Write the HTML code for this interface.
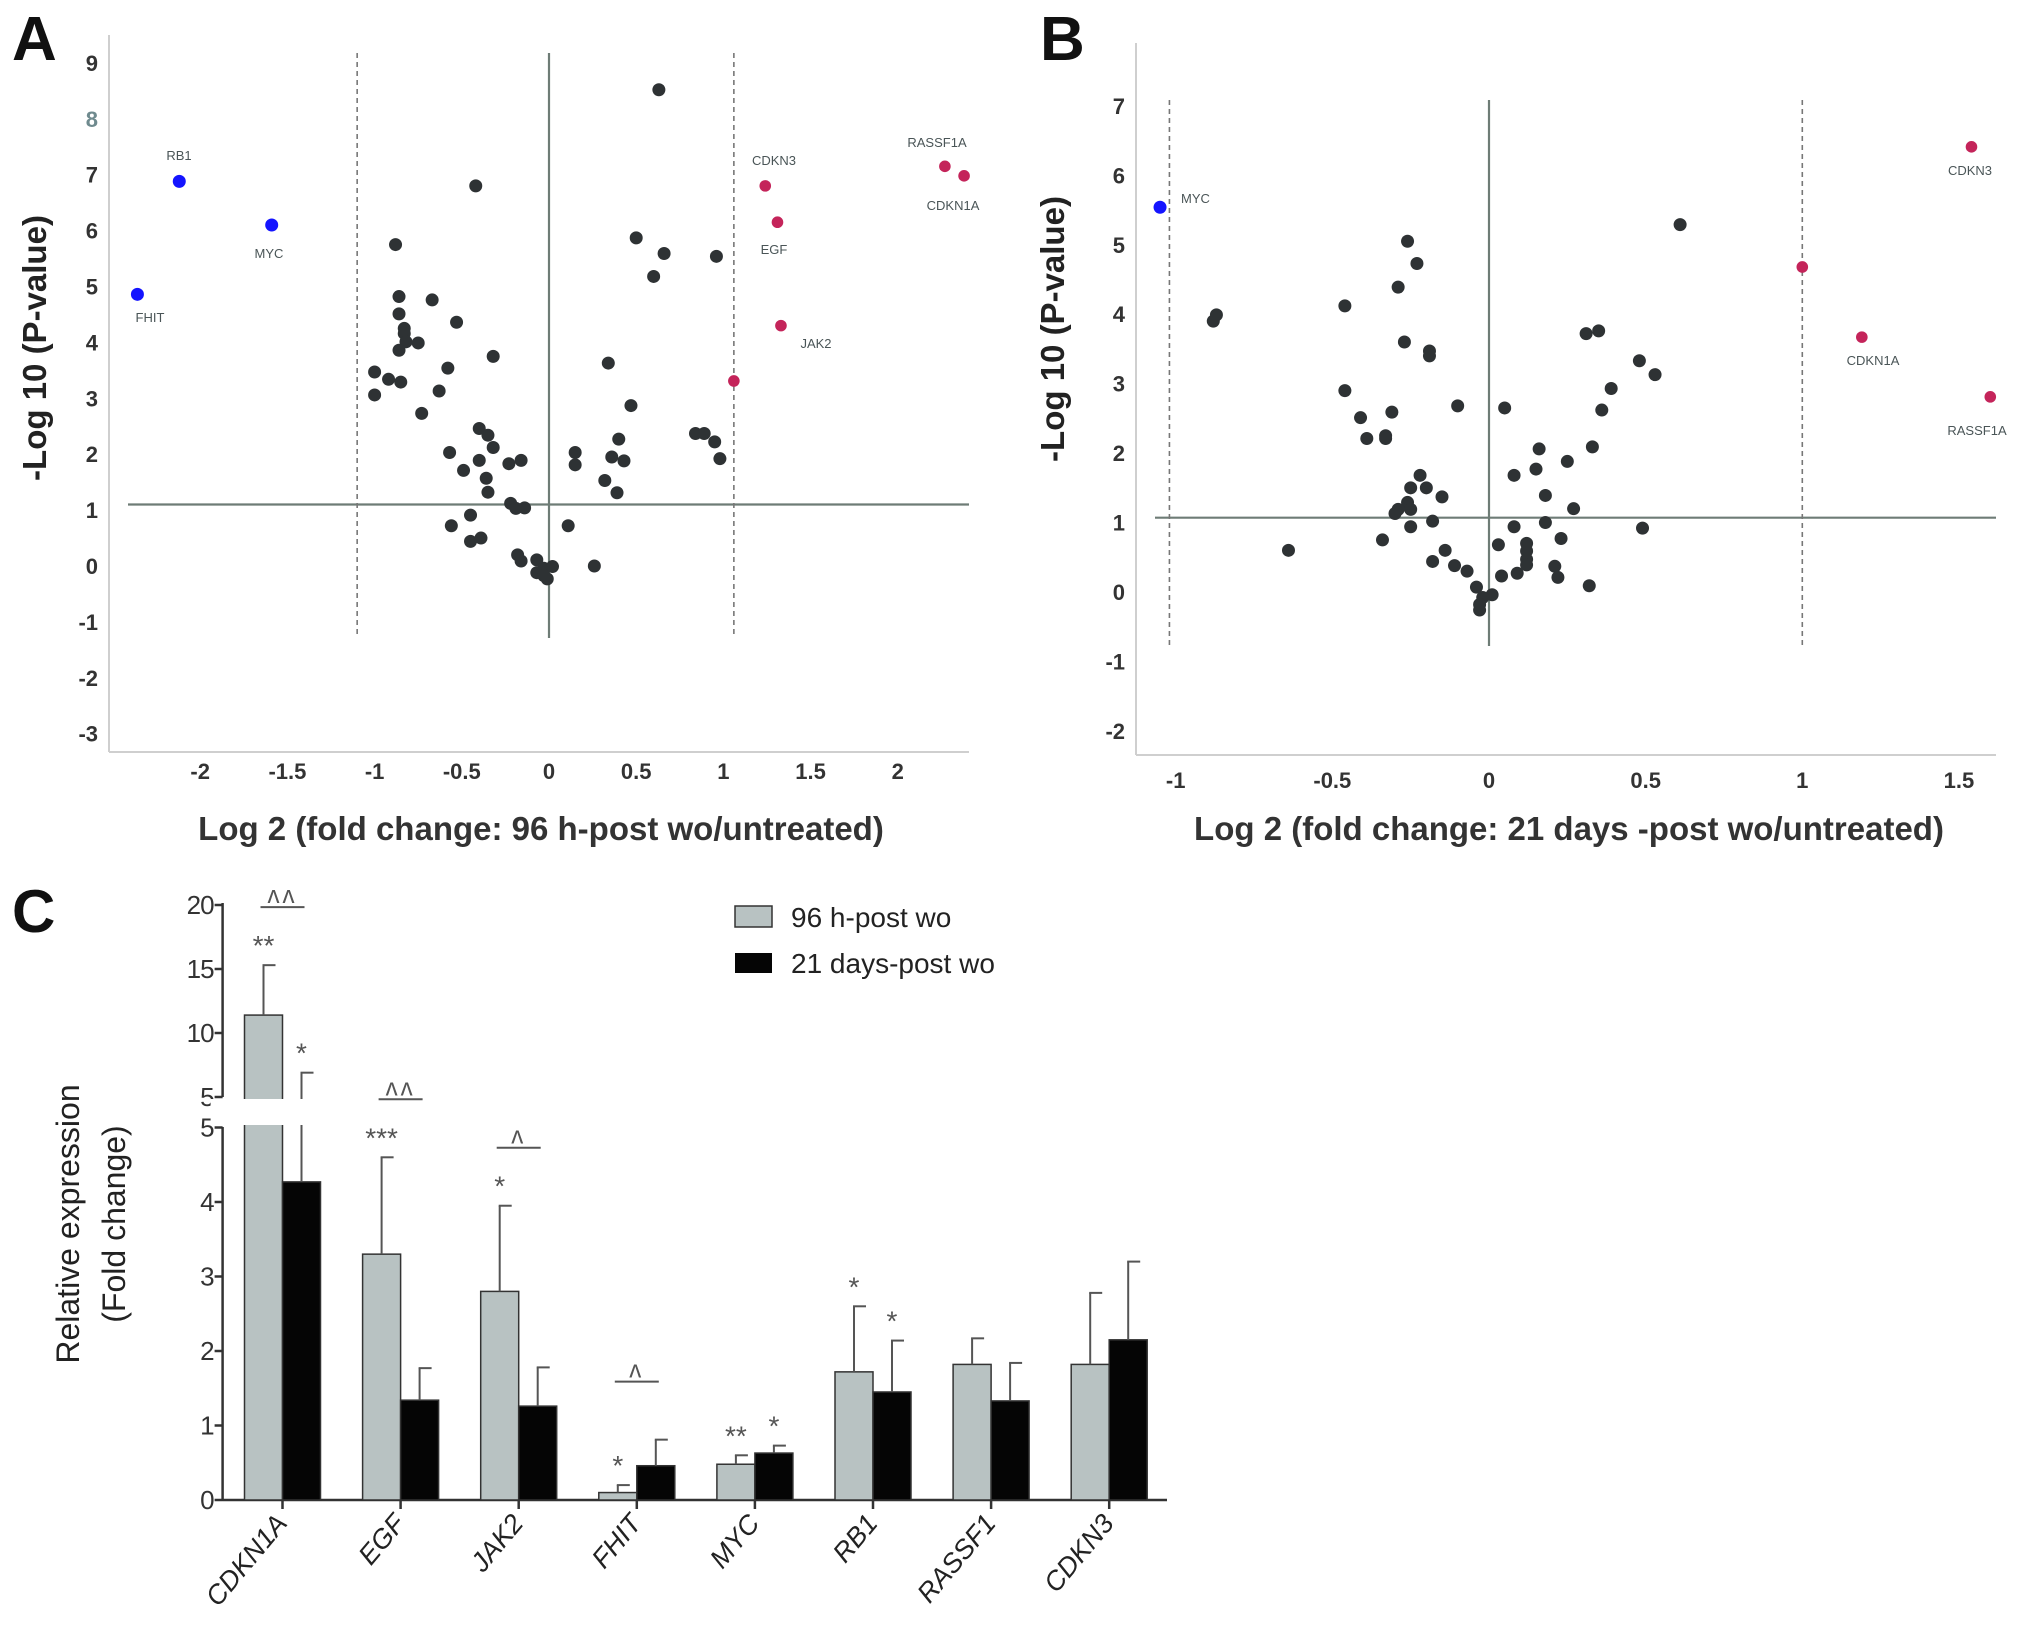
<!DOCTYPE html>
<html><head><meta charset="utf-8">
<style>
html,body{margin:0;padding:0;background:#fff;}
svg{display:block;font-family:"Liberation Sans",Arial,sans-serif;}
</style></head>
<body>
<svg id="fig" width="2031" height="1630" viewBox="0 0 2031 1630" xmlns="http://www.w3.org/2000/svg">
<rect x="0" y="0" width="2031" height="1630" fill="#fff"/>
<text x="12" y="60" font-size="62" font-weight="bold" fill="#111">A</text>
<text x="1040" y="60" font-size="62" font-weight="bold" fill="#111">B</text>
<text x="12" y="932" font-size="60" font-weight="bold" fill="#111">C</text>
<g id="pa"></g>
<g id="pb"></g>
<g id="pc"></g>
</svg>
<script>
// ---------- Panel A data ----------
const aBlackX=[0.63,-0.42,-0.88,0.5,0.66,0.6,0.96,-0.86,-0.67,-0.86,-0.83,-0.83,-0.53,-0.82,-0.75,-0.86,-0.32,-1.0,-0.92,-0.85,-0.58,-1.0,-0.63,-0.73,0.34,0.47,-0.4,-0.35,-0.32,-0.57,-0.4,-0.49,-0.36,-0.35,-0.23,-0.16,0.15,0.15,0.4,0.36,0.43,0.32,0.39,0.84,0.89,0.95,0.98,-0.22,-0.19,-0.14,-0.56,-0.45,-0.45,-0.39,0.11,-0.18,-0.16,-0.07,-0.07,-0.03,-0.01,0.02,0.26,-0.03];
const aBlackY=[8.52,6.8,5.75,5.87,5.59,5.18,5.54,4.82,4.76,4.51,4.25,4.16,4.36,4.01,3.99,3.86,3.75,3.47,3.34,3.29,3.54,3.06,3.13,2.73,3.63,2.87,2.46,2.34,2.12,2.03,1.89,1.71,1.57,1.32,1.83,1.89,2.03,1.81,2.27,1.95,1.88,1.53,1.31,2.37,2.37,2.22,1.92,1.12,1.03,1.04,0.72,0.91,0.44,0.5,0.72,0.2,0.09,0.11,-0.12,-0.04,-0.23,-0.01,0.0,-0.17];
const aDownGenes=["RB1","MYC","FHIT"];
const aDownX=[-2.12,-1.59,-2.36];
const aDownY=[6.88,6.1,4.86];
const aUpGenes=["CDKN3","EGF","JAK2","","RASSF1A","CDKN1A"];
const aUpX=[1.24,1.31,1.33,1.06,2.27,2.38];
const aUpY=[6.8,6.15,4.3,3.31,7.15,6.98];
const aXTicks=[-2,-1.5,-1,-0.5,0,0.5,1,1.5,2];
const aYTicks=[9,8,7,6,5,4,3,2,1,0,-1,-2,-3];
const aHLine=1.1, aVLines=[-1.1,1.06];
// ---------- Panel B data ----------
const bBlackX=[0.61,-0.26,-0.23,-0.29,-0.46,-0.87,-0.88,-0.27,-0.19,-0.19,0.31,0.35,0.48,0.53,-0.46,0.39,-0.1,0.05,0.36,-0.31,-0.41,-0.33,-0.39,-0.33,0.33,0.16,0.25,0.15,0.08,-0.22,-0.25,-0.2,-0.15,0.18,-0.26,-0.29,-0.25,-0.3,0.27,-0.18,-0.25,0.18,0.08,0.49,-0.34,0.23,0.03,0.12,0.12,0.12,0.12,-0.64,-0.14,-0.18,-0.11,-0.07,0.21,0.22,0.04,0.09,0.32,-0.04,0.01,-0.02,-0.03,-0.03];
const bBlackY=[5.29,5.05,4.73,4.39,4.12,3.99,3.9,3.6,3.47,3.4,3.72,3.76,3.33,3.13,2.9,2.93,2.68,2.65,2.62,2.59,2.51,2.25,2.21,2.21,2.09,2.06,1.88,1.77,1.68,1.68,1.5,1.5,1.37,1.39,1.29,1.19,1.19,1.13,1.2,1.02,0.94,1.0,0.94,0.92,0.75,0.77,0.68,0.7,0.59,0.47,0.39,0.6,0.6,0.44,0.38,0.3,0.37,0.21,0.23,0.27,0.09,0.07,-0.04,-0.08,-0.18,-0.26];
const bDownGenes=["MYC"];
const bDownX=[-1.05];
const bDownY=[5.54];
const bUpGenes=["CDKN3","","CDKN1A","RASSF1A"];
const bUpX=[1.54,1.0,1.19,1.6];
const bUpY=[6.41,4.68,3.67,2.81];
const bXTicks=[-1,-0.5,0,0.5,1,1.5];
const bYTicks=[7,6,5,4,3,2,1,0,-1,-2];
const bHLine=1.07, bVLines=[-1.02,1.0];
// ---------- Panel C data ----------
const cCategories=["CDKN1A","EGF","JAK2","FHIT","MYC","RB1","RASSF1","CDKN3"];
const c96h=[11.4,3.3,2.8,0.1,0.48,1.72,1.82,1.82];
const c96hErr=[15.3,4.6,3.95,0.2,0.6,2.6,2.17,2.78];
const c21d=[4.27,1.34,1.26,0.46,0.63,1.45,1.33,2.15];
const c21dErr=[6.9,1.77,1.78,0.81,0.73,2.14,1.84,3.2];
const cLowTicks=[0,1,2,3,4,5];
const cHighTicks=[5,10,15,20];
const c96hStars=["**","***","*","*","**","*","",""];
const c21dStars=["*","","","","*","*","",""];
const cCaretMarks=["^^","^^","^","^","","","",""];

const NS="http://www.w3.org/2000/svg";
function mk(parent,tag,attrs){const e=document.createElementNS(NS,tag);for(const k in attrs)e.setAttribute(k,attrs[k]);parent.appendChild(e);return e;}

function volcano(g,cfg){
  const X=v=>cfg.x0+v*cfg.ux, Y=v=>cfg.y0-v*cfg.uy;
  let e=mk(g,'line',{x1:cfg.axL,y1:cfg.axT,x2:cfg.axL,y2:cfg.axB,stroke:'#cfcfcf','stroke-width':2});
  
  
  e=mk(g,'line',{x1:cfg.axL,y1:cfg.axB,x2:cfg.axR,y2:cfg.axB,stroke:'#cfcfcf','stroke-width':2});
  
  
  cfg.yTicks.forEach(t=>{
    const tx=mk(g,'text',{x:cfg.ylx,y:Y(t)+8,'font-size':22,'font-weight':'bold','text-anchor':'end',fill:(t===8&&cfg.light8)?'#6f8a8e':'#333'});
    tx.textContent=String(t);
    
    
  });
  cfg.xTicks.forEach(t=>{
    const tx=mk(g,'text',{x:X(t),y:cfg.xly,'font-size':22,'font-weight':'bold','text-anchor':'middle',fill:'#333'});
    tx.textContent=String(t);
    
    
  });
  e=mk(g,'line',{x1:cfg.hL,y1:Y(cfg.hLine),x2:cfg.axR,y2:Y(cfg.hLine),stroke:'#6e7c76','stroke-width':2.2});
  
  
  e=mk(g,'line',{x1:X(0),y1:cfg.vT,x2:X(0),y2:cfg.vB,stroke:'#6e7c76','stroke-width':2.2});
  
  
  cfg.vLines.forEach(v=>{
    const d=mk(g,'line',{x1:X(v),y1:cfg.vT,x2:X(v),y2:cfg.vB,stroke:'#777','stroke-width':1.6,'stroke-dasharray':'5,4'});
    
    
  });
  cfg.bx.forEach((v,i)=>{
    const c=mk(g,'circle',{cx:X(v),cy:Y(cfg.by[i]),r:6.5,fill:'#2e3234'});
    
    
  });
  cfg.dx.forEach((v,i)=>{
    const c=mk(g,'circle',{cx:X(v),cy:Y(cfg.dy[i]),r:6.5,fill:'#1414ff'});
    
    
  });
  cfg.ux2.forEach((v,i)=>{
    const c=mk(g,'circle',{cx:X(v),cy:Y(cfg.uy2[i]),r:5.8,fill:'#c4245a'});
    
    
  });
  cfg.labels.forEach(l=>{
    const tx=mk(g,'text',{x:l[1],y:l[2]+5,'font-size':13,'text-anchor':l[3]||'middle',fill:'#4a5557'});
    tx.textContent=l[0];
    
    
  });
  let t=mk(g,'text',{x:0,y:0,'font-size':33,'font-weight':'bold',fill:'#222','text-anchor':'middle',transform:`translate(${cfg.ytx},${cfg.yty}) rotate(-90)`});
  t.textContent='-Log 10 (P-value)';
  
  
  t=mk(g,'text',{x:cfg.xtx,y:cfg.xty,'font-size':33,'font-weight':'bold',fill:'#333','text-anchor':'middle','xml:space':'preserve'});
  t.textContent=cfg.xTitle;
  
  
}

volcano(document.getElementById('pa'),{
  x0:549,ux:174.4,y0:566,uy:55.9,axL:109,axT:35,axB:752,axR:969,ylx:98,xly:779,
  xTicks:aXTicks,yTicks:aYTicks,light8:true,hLine:aHLine,hL:128,vLines:aVLines,vT:53,vB:638,
  bx:aBlackX,by:aBlackY,dx:aDownX,dy:aDownY,ux2:aUpX,uy2:aUpY,
  labels:[[aDownGenes[0],179,155],[aDownGenes[1],269,253],[aDownGenes[2],150,317],[aUpGenes[0],774,160],[aUpGenes[1],774,249],[aUpGenes[2],816,343],[aUpGenes[4],937,142],[aUpGenes[5],953,205]],
  ytx:46,yty:348,xtx:541,xty:840,xTitle:'Log 2   (fold change: 96 h-post wo/untreated)'
});
volcano(document.getElementById('pb'),{
  x0:1489,ux:313.3,y0:592,uy:69.45,axL:1136,axT:43,axB:755,axR:1996,ylx:1125,xly:788,
  xTicks:bXTicks,yTicks:bYTicks,light8:false,hLine:bHLine,hL:1155,vLines:bVLines,vT:100,vB:646,
  bx:bBlackX,by:bBlackY,dx:bDownX,dy:bDownY,ux2:bUpX,uy2:bUpY,
  labels:[[bDownGenes[0],1181,198,'start'],[bUpGenes[0],1970,170],[bUpGenes[2],1873,360],[bUpGenes[3],1977,430]],
  ytx:1064,yty:329,xtx:1569,xty:840,xTitle:'Log 2 (fold change: 21 days -post wo/untreated)'
});

// ---------- Panel C ----------
(function(){
  const g=document.getElementById('pc');
  const Y=v=>v<=5?1500-v*74.5:1097-(v-5)*12.8;
  const X0=282.5, step=118.1, bw=38;
  const axX=222.6;
  let e=mk(g,'line',{x1:axX,y1:903,x2:axX,y2:1097,stroke:'#333','stroke-width':2.5});
  
  
  e=mk(g,'line',{x1:axX,y1:1127,x2:axX,y2:1501,stroke:'#333','stroke-width':2.5});
  
  
  e=mk(g,'line',{x1:axX,y1:1500,x2:1167,y2:1500,stroke:'#333','stroke-width':2.5});
  
  
  function ytick(v,yy){
    const l=mk(g,'line',{x1:axX-8,y1:yy,x2:axX,y2:yy,stroke:'#333','stroke-width':2.5});
    
    
    const t=mk(g,'text',{x:axX-9,y:yy+9,'font-size':26,'text-anchor':'end',fill:'#333','letter-spacing':'-1'});
    t.textContent=String(v);
    
    
  }
  cLowTicks.forEach(v=>ytick(v,1500-v*74.5));
  cHighTicks.forEach(v=>ytick(v,1097-(v-5)*12.8));
  function bar(cx,v,err,fill,name){
    const top=Y(v);
    const r=mk(g,'rect',{x:cx,y:top,width:bw,height:1500-top,fill:fill,stroke:'#333','stroke-width':1.5});
    
    
    const mx=cx+bw/2, ey=Y(err);
    const l=mk(g,'line',{x1:mx,y1:top,x2:mx,y2:ey,stroke:'#555','stroke-width':2});
    
    
    const c=mk(g,'line',{x1:mx-1,y1:ey,x2:mx+12,y2:ey,stroke:'#555','stroke-width':2});
    
    
    return {mx,ey};
  }
  cCategories.forEach((cat,i)=>{
    const cx=X0+i*step;
    const a=bar(cx-bw,c96h[i],c96hErr[i],'#b8c2c2','bar-96h-'+cat.toLowerCase());
    const b=bar(cx,c21d[i],c21dErr[i],'#050505','bar-21d-'+cat.toLowerCase());
    const tk=mk(g,'line',{x1:cx,y1:1500,x2:cx,y2:1509,stroke:'#333','stroke-width':2.5});
    
    
    const t=mk(g,'text',{x:0,y:0,'font-size':27,'font-style':'italic','text-anchor':'end',fill:'#222',transform:`translate(${cx+6},${1524}) rotate(-50)`});
    t.textContent=cat;
    
    
    if(c96hStars[i]){
      const s=mk(g,'text',{x:a.mx,y:a.ey-10,'font-size':28,'text-anchor':'middle',fill:'#555'});
      s.textContent=c96hStars[i];
      
      
    }
    if(c21dStars[i]){
      const s=mk(g,'text',{x:b.mx,y:b.ey-10,'font-size':28,'text-anchor':'middle',fill:'#555'});
      s.textContent=c21dStars[i];
      
      
    }
    if(cCaretMarks[i]){
      const ly=Math.min(a.ey,b.ey)-(c96hStars[i]?58:40);
      const l=mk(g,'line',{x1:cx-22,y1:ly,x2:cx+22,y2:ly,stroke:'#555','stroke-width':2});
      
      
      const s=mk(g,'text',{x:cx,y:ly-4,'font-size':24,'text-anchor':'middle',fill:'#555','letter-spacing':'3'});
      s.textContent=cCaretMarks[i].replace(/\^/g,'\u028C');
      
      
    }
  });
  const gap=mk(g,'rect',{x:axX-12,y:1099,width:120,height:26,fill:'#fff'});
  
  
  let r=mk(g,'rect',{x:735,y:906,width:37,height:21,fill:'#b8c2c2',stroke:'#333','stroke-width':1.5});
  
  
  let t=mk(g,'text',{x:791,y:927,'font-size':28,fill:'#222'});
  t.textContent='96 h-post wo';
  
  
  r=mk(g,'rect',{x:735,y:953,width:37,height:20,fill:'#050505'});
  
  
  t=mk(g,'text',{x:791,y:973,'font-size':28,fill:'#222'});
  t.textContent='21 days-post wo';
  
  
  t=mk(g,'text',{x:0,y:0,'font-size':32,'text-anchor':'middle',fill:'#222',transform:'translate(79,1224) rotate(-90)'});
  t.textContent='Relative expression';
  
  
  t=mk(g,'text',{x:0,y:0,'font-size':32,'text-anchor':'middle',fill:'#222',transform:'translate(125,1224) rotate(-90)'});
  t.textContent='(Fold change)';
  
  
})();
</script>
</body></html>
